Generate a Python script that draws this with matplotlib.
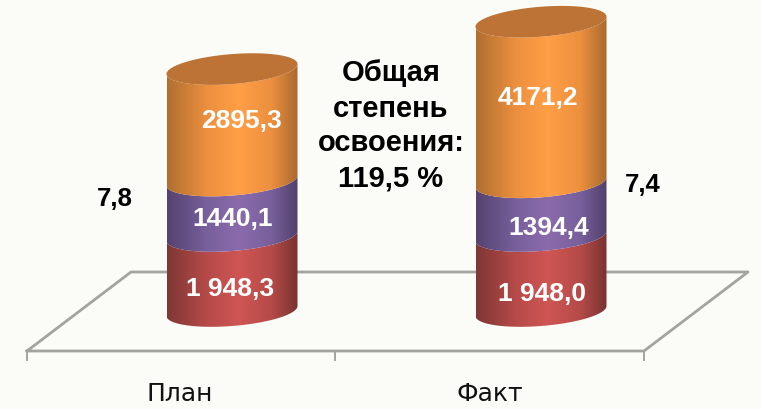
import numpy as np
import matplotlib
matplotlib.use("Agg")
import matplotlib.pyplot as plt
from matplotlib.colors import LinearSegmentedColormap
from matplotlib.patches import Polygon

W, H = 761, 409
BG = "#fbfcf8"

# data
categories = ["План", "Факт"]
red_values = [1948.3, 1948.0]
purple_values = [1440.1, 1394.4]
orange_values = [2895.3, 4171.2]
side_labels = ["7,8", "7,4"]
note_lines = ["Общая", "степень", "освоения:", "119,5 %"]

# px per value unit, px per category step, where value 0 sits
y_scale = 0.0385
x_step = 309.0
x0_px, y0_px = 232.0, 311.0

# cylinder shape in px
half_w, ell_b, ell_tilt = 65.5, 15.0, 5.0

fig = plt.figure(figsize=(W / 100, H / 100), dpi=100, facecolor=BG)

# floor is drawn in plain pixel coords
ax_floor = fig.add_axes([0, 0, 1, 1], zorder=1)
ax_floor.set_xlim(0, W)
ax_floor.set_ylim(H, 0)
ax_floor.axis("off")
floor_c = "#a3a3a0"
ax_floor.plot([27, 131, 748, 644, 27], [351, 272, 272, 351, 351], color=floor_c, lw=2.0)
for tx in [27, 335, 644]:
    ax_floor.plot([tx, tx], [351, 360], color=floor_c, lw=1.4)

# cylinders in value coords
ax = fig.add_axes([0, 0, 1, 1], zorder=2)
xlim = (-x0_px / x_step, (W - x0_px) / x_step)
ylim = (-(H - y0_px) / y_scale, y0_px / y_scale)
ax.patch.set_alpha(0)
ax.axis("off")

theta = np.linspace(0, np.pi, 80)
arc_x = np.cos(theta) * half_w / x_step
arc_y = (ell_tilt * np.cos(theta) - ell_b * np.sin(theta)) / y_scale


def make_cmap(edge_l, mid, edge_r):
    return LinearSegmentedColormap.from_list(
        "c", [(0, edge_l), (0.3, mid[0]), (0.55, mid[1]), (0.8, mid[0]), (1, edge_r)])


series = [
    (red_values, make_cmap("#7f3735", ("#b54a48", "#cf5654"), "#783331")),
    (purple_values, make_cmap("#554270", ("#77609c", "#8b6bac"), "#523f6b")),
    (orange_values, make_cmap("#b06f30", ("#ec8f3f", "#ff9f46"), "#a96a2e")),
]
grad = np.linspace(0, 1, 256).reshape(1, -1)

for i in range(len(categories)):
    bottom = 0.0
    for vals, cmap in series:
        top = bottom + vals[i]
        xs = np.concatenate([i + arc_x, i + arc_x[::-1]])
        ys = np.concatenate([bottom + arc_y, top + arc_y[::-1]])
        poly = Polygon(np.column_stack([xs, ys]), closed=True, fc="none", ec="none")
        ax.add_patch(poly)
        im = ax.imshow(grad, cmap=cmap, aspect="auto", zorder=2,
                       extent=(i - half_w / x_step, i + half_w / x_step, bottom - 30 / y_scale, top + 30 / y_scale))
        im.set_clip_path(poly)
        bottom = top
    # top cap
    cap_x = np.concatenate([i + arc_x, i + arc_x[::-1]])
    cap_y = np.concatenate([bottom + arc_y, bottom + (ell_tilt * np.cos(theta[::-1]) + ell_b * np.sin(theta[::-1])) / y_scale])
    ax.add_patch(Polygon(np.column_stack([cap_x, cap_y]), closed=True, fc="#bc7335", ec="none", zorder=3))

ax.set_xlim(*xlim)
ax.set_ylim(*ylim)


def put(x, y, s, **kw):
    fig.text(x / W, 1 - y / H, s, ha="center", va="center", zorder=5, **kw)


bold = dict(family="Liberation Sans", fontweight="bold")
vfont = 19
put(241, 121, f"{orange_values[0]:.1f}".replace(".", ","), color="white", fontsize=vfont, **bold)
put(233, 219, f"{purple_values[0]:.1f}".replace(".", ","), color="white", fontsize=vfont, **bold)
put(230, 289, "1 948,3", color="white", fontsize=vfont, **bold)
put(538, 98, f"{orange_values[1]:.1f}".replace(".", ","), color="white", fontsize=vfont, **bold)
put(549, 228, f"{purple_values[1]:.1f}".replace(".", ","), color="white", fontsize=vfont, **bold)
put(542, 294, "1 948,0", color="white", fontsize=vfont, **bold)

put(115, 199, side_labels[0], color="black", fontsize=18.5, **bold)
put(643, 185, side_labels[1], color="black", fontsize=18.5, **bold)

for yy, line in zip([73, 109, 143, 179], note_lines):
    put(391, yy, line, color="black", fontsize=21, **bold)

put(180, 394, categories[0], color="#111111", fontsize=18, family="DejaVu Sans")
put(490, 394, categories[1], color="#111111", fontsize=18, family="DejaVu Sans")

fig.savefig("out.png", dpi=100, facecolor=BG)
